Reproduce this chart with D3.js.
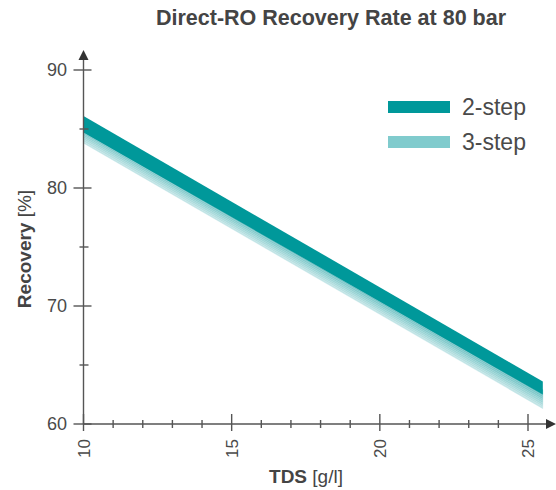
<!DOCTYPE html>
<html><head><meta charset="utf-8">
<script src="https://cdn.jsdelivr.net/npm/d3@7"></script>
<style>body{margin:0;background:#fff}svg{display:block}</style>
</head><body>
<script>
// Data
const tds = [10, 25.5];
const twoStepUpper = [86.1, 63.6];
const twoStepLower = [84.7, 62.5];
const threeStepUpper = [85.3, 62.9];
const threeStepLower = [83.8, 61.3];
const xTicks = [10, 15, 20, 25];
const yTicks = [60, 70, 80, 90];
const xMinor = [11,12,13,14,16,17,18,19,21,22,23,24];
const yMinor = [65, 75, 85];
const seriesNames = ["2-step", "3-step"];
const colors = ["#00989a", "#80cbcd"];

const W = 556, H = 490;
const svg = d3.select("body").append("svg").attr("width", W).attr("height", H);
const font = "'Liberation Sans', Arial, sans-serif";
const x = d3.scaleLinear().domain([10, 25]).range([83.5, 528]);
const y = d3.scaleLinear().domain([60, 90]).range([424, 70]);

const defs = svg.append("defs");
defs.append("filter").attr("id","soft").append("feGaussianBlur").attr("stdDeviation", 0.6);

// 3-step band as layered slices
const N = 10;
const g3 = svg.append("g").attr("filter","url(#soft)");
const colI = d3.interpolateRgb("#4fb4b6", "#c8e8e9");
for (let k = 0; k < N; k++) {
  const t0 = k / N, t1 = (k + 1) / N;
  const pts = tds.map((t, i) => ({
    t,
    u: threeStepUpper[i] + (threeStepLower[i] - threeStepUpper[i]) * t0,
    l: threeStepUpper[i] + (threeStepLower[i] - threeStepUpper[i]) * t1
  }));
  g3.append("path")
    .attr("d", d3.area().x(d => x(d.t)).y0(d => y(d.l)).y1(d => y(d.u))(pts))
    .attr("fill", colI(t0 + 0.5 / N))
    .attr("stroke", colI(t0 + 0.5 / N)).attr("stroke-width", 0.3);
}
// 2-step band
const pts2 = tds.map((t, i) => ({t, u: twoStepUpper[i], l: twoStepLower[i]}));
svg.append("path")
  .attr("d", d3.area().x(d => x(d.t)).y0(d => y(d.l)).y1(d => y(d.u))(pts2))
  .attr("fill", colors[0]).attr("filter","url(#soft)");

// Axes
const axCol = "#555";
const ax = svg.append("g").attr("stroke", axCol).attr("stroke-width", 1.4);
ax.append("line").attr("x1", x(10)).attr("x2", 548).attr("y1", y(60)).attr("y2", y(60));
ax.append("line").attr("x1", x(10)).attr("x2", x(10)).attr("y1", y(60)).attr("y2", 58);
svg.append("path").attr("d", `M556,${y(60)} L546,${y(60)-5} L546,${y(60)+5} Z`).attr("fill", "#333");
svg.append("path").attr("d", `M${x(10)},50 L${x(10)-5},60 L${x(10)+5},60 Z`).attr("fill", "#333");

xTicks.forEach(v => ax.append("line").attr("x1", x(v)).attr("x2", x(v)).attr("y1", y(60)-10).attr("y2", y(60)+7));
xMinor.forEach(v => ax.append("line").attr("x1", x(v)).attr("x2", x(v)).attr("y1", y(60)-4).attr("y2", y(60)+4));
yTicks.forEach(v => ax.append("line").attr("x1", x(10)-10).attr("x2", x(10)+8).attr("y1", y(v)).attr("y2", y(v)));
yMinor.forEach(v => ax.append("line").attr("x1", x(10)-4).attr("x2", x(10)+5).attr("y1", y(v)).attr("y2", y(v)));

const txtCol = "#4a4a4a";
svg.append("g").selectAll("text").data(yTicks).join("text")
  .attr("x", 67).attr("y", d => y(d)).attr("dy", "0.36em")
  .attr("text-anchor", "end").attr("font-family", font).attr("font-size", 18)
  .attr("fill", txtCol).text(d => d);
svg.append("g").selectAll("text").data(xTicks).join("text")
  .attr("transform", d => `translate(${x(d)},439) rotate(-90)`)
  .attr("dy", "0.36em")
  .attr("text-anchor", "end").attr("font-family", font).attr("font-size", 17)
  .attr("fill", txtCol).text(d => d);

// Title
svg.append("text").attr("x", 331).attr("y", 25).attr("text-anchor", "middle")
  .attr("font-family", font).attr("font-size", 21.5).attr("font-weight", "bold")
  .attr("fill", "#444").text("Direct-RO Recovery Rate at 80 bar");

// Axis labels
const xl = svg.append("text").attr("x", 306).attr("y", 483).attr("text-anchor", "middle")
  .attr("font-family", font).attr("font-size", 19).attr("fill", "#444");
xl.append("tspan").attr("font-weight", "bold").text("TDS");
xl.append("tspan").text(" [g/l]");
const yl = svg.append("text").attr("transform", "translate(31,249) rotate(-90)").attr("text-anchor", "middle")
  .attr("font-family", font).attr("font-size", 19).attr("fill", "#444");
yl.append("tspan").attr("font-weight", "bold").text("Recovery");
yl.append("tspan").text(" [%]");

// Legend
const lg = svg.append("g");
seriesNames.forEach((n, i) => {
  lg.append("rect").attr("x", 388).attr("y", 101 + i * 35).attr("width", 62).attr("height", 12).attr("fill", colors[i]);
  lg.append("text").attr("x", 462).attr("y", 115 + i * 35).attr("font-family", font).attr("font-size", 23)
    .attr("fill", txtCol).text(n);
});
</script>
</body></html>
